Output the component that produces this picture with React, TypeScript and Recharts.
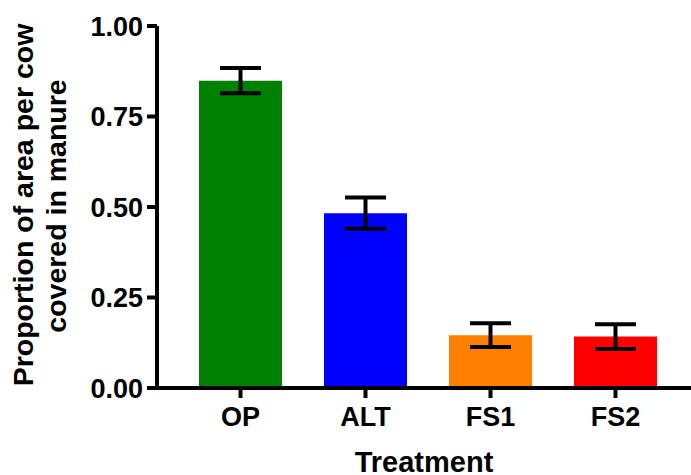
import React from 'react';
import { BarChart, Bar, XAxis, YAxis, ErrorBar, Cell } from 'recharts';

const categories = ['OP', 'ALT', 'FS1', 'FS2'];
const means = [0.849, 0.483, 0.146, 0.142];
const errors = [0.035, 0.043, 0.033, 0.034];
const colors = ['#008000', '#0000FF', '#FF8000', '#FF0000'];
const yTicks = [0, 0.25, 0.5, 0.75, 1];
const yLabelLines = ['Proportion of area per cow', 'covered in manure'];
const xLabel = 'Treatment';

const data = categories.map((c, i) => ({ name: c, value: means[i], err: errors[i] }));

const FONT = '"Liberation Sans", Arial, sans-serif';

const YLabel = () => (
  <g>
    <text
      x={33}
      y={205}
      transform="rotate(-90, 33, 205)"
      textAnchor="middle"
      fontFamily={FONT}
      fontWeight="bold"
      fontSize={28.5}
      fill="#000"
    >
      {yLabelLines[0]}
    </text>
    <text
      x={66}
      y={206}
      transform="rotate(-90, 66, 206)"
      textAnchor="middle"
      fontFamily={FONT}
      fontWeight="bold"
      fontSize={28.5}
      fill="#000"
    >
      {yLabelLines[1]}
    </text>
  </g>
);

export default function App() {
  return (
    <div style={{ position: 'absolute', left: 0, top: 0, width: 691, height: 475, background: '#fff' }}>
      <BarChart width={691} height={475} data={data} margin={{ top: 26, right: 0, bottom: 0, left: 0 }}>
        <XAxis
          dataKey="name"
          height={87}
          padding={{ left: 21, right: 13 }}
          stroke="#000"
          strokeWidth={4}
          axisLine={{ stroke: '#000', strokeWidth: 4 }}
          tickLine={{ stroke: '#000', strokeWidth: 4 }}
          tickSize={10}
          tickMargin={9}
          tick={{ fill: '#000', fontFamily: FONT, fontWeight: 'bold', fontSize: 27, strokeWidth: 0 }}
          interval={0}
          label={{
            value: xLabel,
            position: 'insideBottom',
            offset: 3,
            fill: '#000',
            fontFamily: FONT,
            fontWeight: 'bold',
            fontSize: 29,
          }}
        />
        <YAxis
          width={157}
          domain={[0, 1]}
          ticks={yTicks}
          tickFormatter={(v: number) => v.toFixed(2)}
          stroke="#000"
          strokeWidth={4}
          axisLine={{ stroke: '#000', strokeWidth: 4 }}
          tickLine={{ stroke: '#000', strokeWidth: 4 }}
          tickSize={10}
          tickMargin={4}
          tick={{ fill: '#000', fontFamily: FONT, fontWeight: 'bold', fontSize: 27, strokeWidth: 0 }}
          label={{ content: () => <YLabel /> }}
        />
        <Bar dataKey="value" barSize={83} isAnimationActive={false}>
          {data.map((d, i) => (
            <Cell key={d.name} fill={colors[i]} />
          ))}
          <ErrorBar dataKey="err" width={20.5} stroke="#000" strokeWidth={4} direction="y" />
        </Bar>
      </BarChart>
    </div>
  );
}
